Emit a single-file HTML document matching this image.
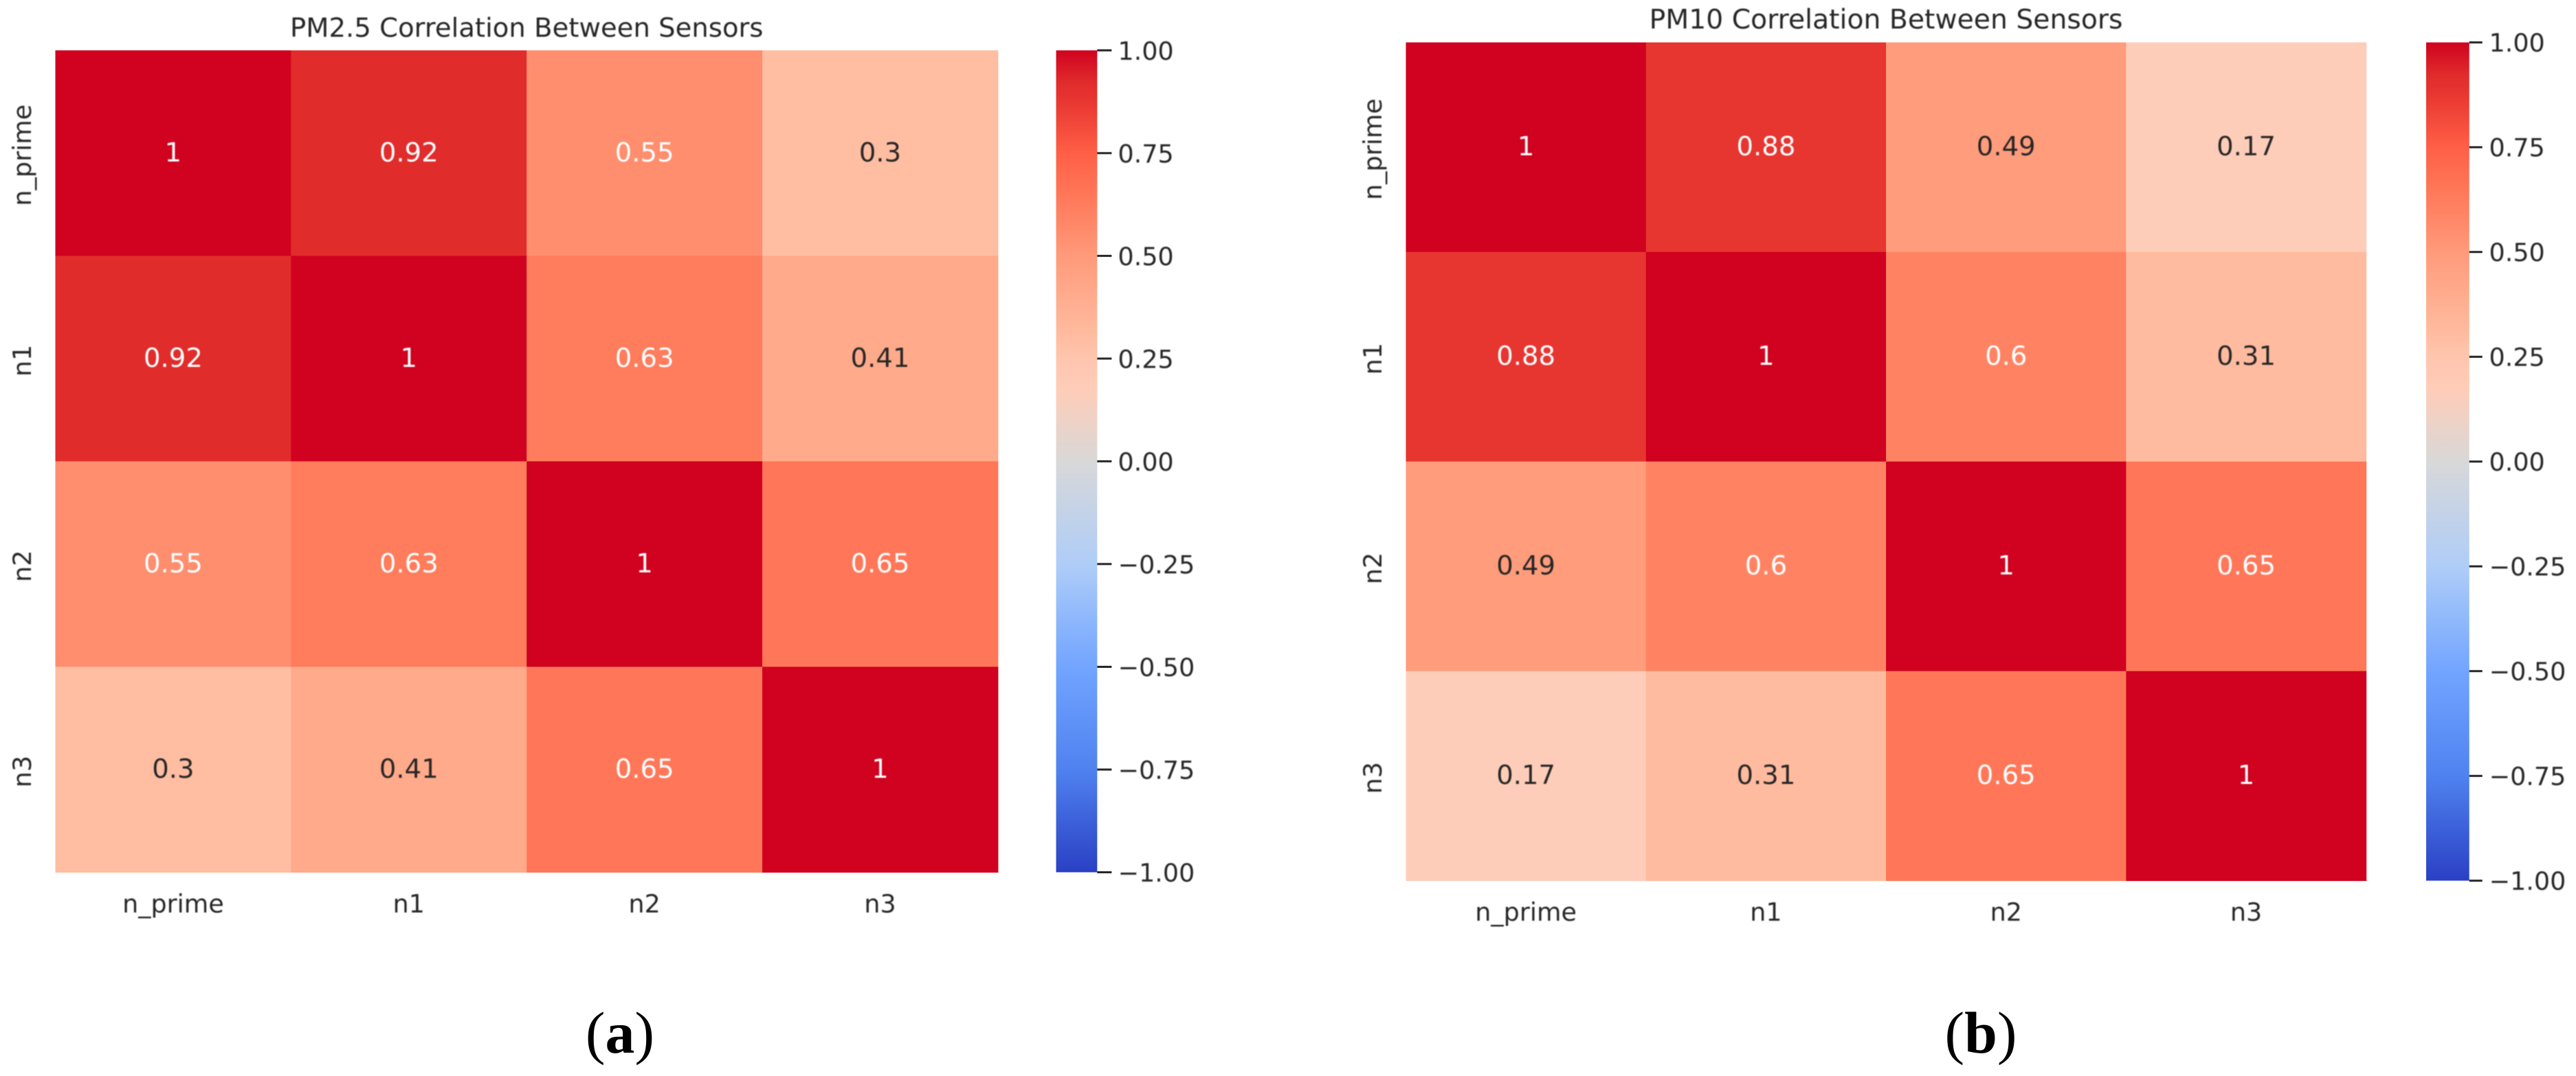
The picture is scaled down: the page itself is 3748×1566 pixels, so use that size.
<!DOCTYPE html>
<html lang="en">
<head>
<meta charset="utf-8">
<title>PM2.5 and PM10 Correlation Between Sensors</title>
<style>
html,body{margin:0;padding:0;background:#fff;}
body{width:3748px;height:1566px;overflow:hidden;}
svg{display:block;}
text{font-family:"DejaVu Sans","Liberation Sans",sans-serif;fill:#262626;}
.soft{filter:blur(0.7px);}
</style>
</head>
<body>
<svg id="figure" xmlns="http://www.w3.org/2000/svg" width="3748" height="1566" viewBox="0 0 3748 1566">
  <rect x="0" y="0" width="3748" height="1566" fill="#ffffff"/>
  <text x="902" y="1532" text-anchor="middle" style="font-family:'Liberation Serif',serif;font-size:86px;fill:#000">(<tspan font-weight="bold">a</tspan>)</text>
  <text x="2882" y="1532" text-anchor="middle" style="font-family:'Liberation Serif',serif;font-size:86px;fill:#000">(<tspan font-weight="bold">b</tspan>)</text>
</svg>
<script>
const categories = ['n_prime', 'n1', 'n2', 'n3'];
const pm25Title = 'PM2.5 Correlation Between Sensors';
const pm10Title = 'PM10 Correlation Between Sensors';
const pm25Values = [
  [1, 0.92, 0.55, 0.3],
  [0.92, 1, 0.63, 0.41],
  [0.55, 0.63, 1, 0.65],
  [0.3, 0.41, 0.65, 1]
];
const pm10Values = [
  [1, 0.88, 0.49, 0.17],
  [0.88, 1, 0.6, 0.31],
  [0.49, 0.6, 1, 0.65],
  [0.17, 0.31, 0.65, 1]
];
const colorbarTicks = [1, 0.75, 0.5, 0.25, 0, -0.25, -0.5, -0.75, -1];
const colorbarTickLabels = ['1.00', '0.75', '0.50', '0.25', '0.00', '\u22120.25', '\u22120.50', '\u22120.75', '\u22121.00'];
const colorStopValues = [-1, -0.75, -0.5, -0.25, 0, 0.17, 0.25, 0.31, 0.41, 0.5, 0.55, 0.65, 0.75, 0.88, 0.92, 1];
const colorStopHexes = ['#2a40c4', '#4f82f0', '#72a5ff', '#afcdf8', '#d8d8d8', '#fecdb9', '#ffc5ae', '#ffbb9f', '#ffaa8b', '#ff9a7a', '#ff8e6e', '#ff7758', '#ff5f46', '#e73530', '#e12c2c', '#d0021f'];

const SVGNS = 'http://www.w3.org/2000/svg';
const root = document.getElementById('figure');

function make(tag, parent, attrs, txt) {
  const el = document.createElementNS(SVGNS, tag);
  for (const k in attrs) el.setAttribute(k, attrs[k]);
  if (txt !== undefined) el.textContent = txt;
  parent.appendChild(el);
  return el;
}
function hexToRgb(h) {
  return [parseInt(h.slice(1, 3), 16), parseInt(h.slice(3, 5), 16), parseInt(h.slice(5, 7), 16)];
}
function colorScale(v) {
  const c = Math.max(-1, Math.min(1, v));
  for (let i = 1; i < colorStopValues.length; i++) {
    if (c <= colorStopValues[i]) {
      const t = (c - colorStopValues[i - 1]) / (colorStopValues[i] - colorStopValues[i - 1]);
      const a = hexToRgb(colorStopHexes[i - 1]);
      const b = hexToRgb(colorStopHexes[i]);
      return 'rgb(' + a.map((x, j) => Math.round(x + (b[j] - x) * t)).join(',') + ')';
    }
  }
  return colorStopHexes[colorStopHexes.length - 1];
}

function drawPanel(id, title, values, p) {
  const cols = categories.length;
  const cw = (p.right - p.left) / cols;
  const ch = (p.bottom - p.top) / cols;
  const xBand = i => p.left + i * cw;
  const yBand = i => p.top + i * ch;
  const cbarY = v => p.top + (1 - v) / 2 * (p.bottom - p.top);

  const g = make('g', root, {});
  
  

  const t = make('text', g, {x: (p.left + p.right) / 2, y: p.titleY, 'text-anchor': 'middle', 'font-size': p.titleSize, class: 'soft'}, title);
  
  

  values.forEach((row, r) => {
    row.forEach((v, c) => {
      const cell = make('rect', g, {x: xBand(c), y: yBand(r), width: cw + 0.5, height: ch + 0.5, fill: colorScale(v)});
      
      
    });
  });
  values.forEach((row, r) => {
    row.forEach((v, c) => {
      const ann = make('text', g, {
        x: xBand(c) + cw / 2, y: yBand(r) + ch / 2 + 12, 'text-anchor': 'middle', 'font-size': 38.6, class: 'soft',
        style: 'fill:' + (v >= 0.5 ? '#ffffff' : '#262626')
      }, String(v));
      
      
    });
  });

  categories.forEach((name, i) => {
    const xl = make('text', g, {x: xBand(i) + cw / 2, y: p.bottom + 58.5, 'text-anchor': 'middle', 'font-size': 36.5, class: 'soft'}, name);
    
    
    const cy = yBand(i) + ch / 2 + 3;
    const yl = make('text', g, {x: 0, y: 0, 'text-anchor': 'middle', 'font-size': 36.5, class: 'soft', transform: 'translate(' + (p.left - 35.5) + ' ' + cy + ') rotate(-90)'}, name);
    
    
  });

  const defs = make('defs', g, {});
  const grad = make('linearGradient', defs, {id: 'cbar-grad-' + id, gradientUnits: 'userSpaceOnUse', x1: 0, x2: 0, y1: cbarY(1), y2: cbarY(-1)});
  for (let i = colorStopValues.length - 1; i >= 0; i--) {
    make('stop', grad, {offset: (1 - colorStopValues[i]) / 2, 'stop-color': colorStopHexes[i]});
  }
  const bar = make('rect', g, {x: p.cbarLeft, y: p.top, width: p.cbarRight - p.cbarLeft, height: p.bottom - p.top, fill: 'url(#cbar-grad-' + id + ')'});
  
  

  colorbarTicks.forEach((v, i) => {
    const y = cbarY(v);
    const tick = make('line', g, {x1: p.cbarRight, x2: p.cbarRight + p.tickLen, y1: y, y2: y, stroke: '#262626', 'stroke-width': 3});
    
    
    const lab = make('text', g, {x: p.labelX, y: y + 13.5, 'font-size': 36.5, class: 'soft'}, colorbarTickLabels[i]);
    
    
  });
}

drawPanel('pm25', pm25Title, pm25Values, {
  left: 80.5, right: 1452, top: 73.3, bottom: 1269.5, titleY: 53.5, titleSize: 38.6,
  cbarLeft: 1536.6, cbarRight: 1596.4, tickLen: 21, labelX: 1626.5
});
drawPanel('pm10', pm10Title, pm10Values, {
  left: 2045.5, right: 3442.7, top: 61.7, bottom: 1281.7, titleY: 41.7, titleSize: 39.3,
  cbarLeft: 3530, cbarRight: 3592.7, tickLen: 19, labelX: 3621.5
});
</script>
</body>
</html>
